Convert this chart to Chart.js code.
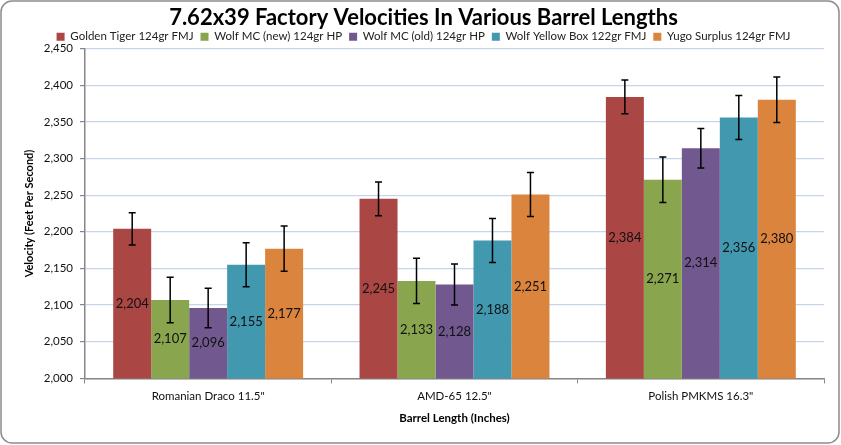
<!DOCTYPE html>
<html>
<head>
<meta charset="utf-8">
<script src="https://cdn.jsdelivr.net/npm/chart.js@4"></script>
<style>
  html, body { margin: 0; padding: 0; background: #fff; }
  #wrap { width: 841px; height: 445px; position: relative; }
</style>
</head>
<body>
<div id="wrap"><canvas id="chart"></canvas></div>
<script>
const categories = ['Romanian Draco 11.5"', 'AMD-65 12.5"', 'Polish PMKMS 16.3"'];
const seriesNames = ['Golden Tiger 124gr FMJ', 'Wolf MC (new) 124gr HP', 'Wolf MC (old) 124gr HP', 'Wolf Yellow Box 122gr FMJ', 'Yugo Surplus 124gr FMJ'];
const goldenTiger = [2204, 2245, 2384];
const wolfNew = [2107, 2133, 2271];
const wolfOld = [2096, 2128, 2314];
const wolfYellow = [2155, 2188, 2356];
const yugo = [2177, 2251, 2380];
const goldenTigerErr = [22, 23, 23];
const wolfNewErr = [31, 31, 31];
const wolfOldErr = [27, 28, 27];
const wolfYellowErr = [30, 30, 30];
const yugoErr = [31, 30, 31];
const yTicks = [2000, 2450, 50];

const colors = ['#AA4643', '#89A54E', '#71588F', '#4198AF', '#DB843D'];
const values = [goldenTiger, wolfNew, wolfOld, wolfYellow, yugo];
const errors = [goldenTigerErr, wolfNewErr, wolfOldErr, wolfYellowErr, yugoErr];
const FONT = 'Lato, "Open Sans", sans-serif';

const fmt = (v) => v.toLocaleString('en-US');

// rounded frame around the whole chart
const frame = {
  id: 'frame',
  beforeInit(chart) {
    // legend sits tighter under the title than chart.js allows by default
    const fit = chart.legend.fit;
    chart.legend.fit = function () {
      fit.call(this);
      this.height -= 4;
    };
  },
  beforeDraw(chart) {
    const ctx = chart.ctx;
    ctx.save();
    ctx.fillStyle = '#fff';
    ctx.fillRect(0, 0, chart.width, chart.height);
    ctx.strokeStyle = '#8c8c8c';
    ctx.lineWidth = 1.5;
    ctx.beginPath();
    ctx.roundRect(1, 1, chart.width - 3, chart.height - 3, 11);
    ctx.stroke();
    ctx.restore();
  }
};

// error bars plus value labels in the middle of each bar
const errorBars = {
  id: 'errorBars',
  afterDatasetsDraw(chart) {
    const ctx = chart.ctx;
    const y = chart.scales.y;
    const base = y.getPixelForValue(y.min);
    ctx.save();
    chart.data.datasets.forEach((ds, i) => {
      const meta = chart.getDatasetMeta(i);
      meta.data.forEach((bar, j) => {
        const v = ds.data[j];
        const top = y.getPixelForValue(v);
        // label
        ctx.fillStyle = '#111';
        ctx.font = '13px Lato';
        ctx.textAlign = 'center';
        ctx.textBaseline = 'middle';
        ctx.fillText(fmt(v), bar.x, (top + base) / 2);
        // error bar
        const e = errors[i][j];
        const hi = y.getPixelForValue(v + e);
        const lo = y.getPixelForValue(v - e);
        ctx.strokeStyle = '#000';
        ctx.lineWidth = 1.5;
        ctx.beginPath();
        ctx.moveTo(bar.x, hi); ctx.lineTo(bar.x, lo);
        ctx.moveTo(bar.x - 3.5, hi); ctx.lineTo(bar.x + 3.5, hi);
        ctx.moveTo(bar.x - 3.5, lo); ctx.lineTo(bar.x + 3.5, lo);
        ctx.stroke();
      });
    });
    ctx.restore();
  }
};

new Chart(document.getElementById('chart'), {
  type: 'bar',
  data: {
    labels: categories,
    datasets: seriesNames.map((name, i) => ({
      label: name,
      data: values[i],
      backgroundColor: colors[i],
      borderWidth: 0,
      categoryPercentage: 0.771,
      barPercentage: 1.0
    }))
  },
  options: {
    responsive: true,
    maintainAspectRatio: false,
    animation: false,
    layout: { padding: { left: 23, right: 17, top: 2, bottom: 20 } },
    plugins: {
      title: {
        display: true,
        text: '7.62x39 Factory Velocities In Various Barrel Lengths',
        color: '#000',
        font: { family: FONT, size: 22, weight: 'bold', lineHeight: 1.0 },
        padding: { top: 5, bottom: -5 }
      },
      legend: {
        position: 'top',
        labels: {
          boxWidth: 8, boxHeight: 8, padding: 7,
          color: '#222',
          font: { family: FONT, size: 11.5 }
        }
      },
      tooltip: { enabled: false }
    },
    scales: {
      x: {
        grid: { drawOnChartArea: false, tickLength: 5, color: '#868686', offset: true },
        border: { color: '#868686', width: 1.5 },
        ticks: { color: '#111', font: { family: FONT, size: 11.5 }, padding: 6 },
        title: { display: true, text: 'Barrel Length (Inches)', color: '#000', font: { family: FONT, size: 11.5, weight: 'bold' }, padding: { top: 2, bottom: 0 } }
      },
      y: {
        min: yTicks[0], max: yTicks[1],
        afterFit(s) { s.width = 62; },
        ticks: { stepSize: yTicks[2], color: '#111', font: { family: FONT, size: 11.5 }, padding: 7, callback: (v) => fmt(v) },
        grid: { color: '#c6d4ec', tickColor: '#868686', tickLength: 5, lineWidth: 1.2 },
        border: { color: '#868686', width: 1.5 },
        title: { display: true, text: 'Velocity (Feet Per Second)', color: '#000', font: { family: FONT, size: 11, weight: 'bold' }, padding: 0 }
      }
    }
  },
  plugins: [frame, errorBars]
});
</script>
</body>
</html>
